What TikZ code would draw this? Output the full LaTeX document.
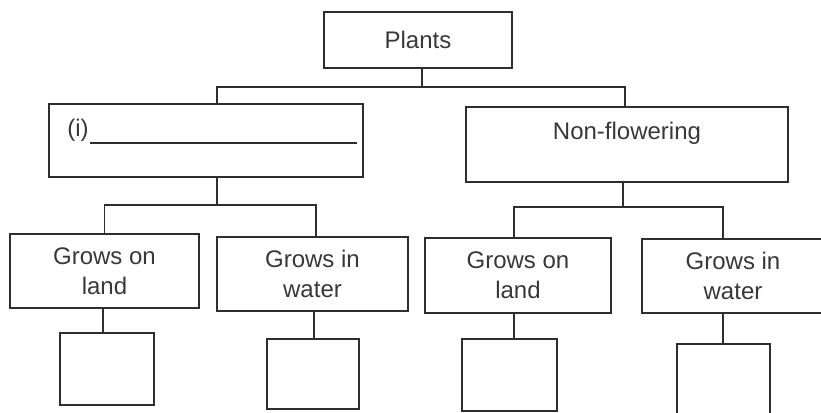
\documentclass[tikz,border=0pt]{standalone}
\usepackage{fontspec}
\setmainfont{Liberation Sans}
\begin{document}
\begin{tikzpicture}[x=1pt,y=-1pt,
  box/.style={draw=black!82,line width=1.6pt,rectangle,inner sep=0pt,align=center,
     text=black!78,font=\fontsize{24}{30}\selectfont},
  txt/.style={text=black!78,font=\fontsize{24}{30}\selectfont,inner sep=0pt},
  conn/.style={draw=black!82,line width=1.6pt}]
\useasboundingbox (0,0) rectangle (821,412);
\clip (0,0) rectangle (821,412);
% level 1
\node[box,minimum width=188,minimum height=56] (plants) at (418,40) {Plants};
% level 2
\node[box,minimum width=314,minimum height=73] (fl) at (206,140.5) {};
\node[txt] (ilab) at (78,130) {(i)};
\draw[conn] (90,143) -- (357,143);
\node[box,minimum width=322,minimum height=75] (nf) at (627,144.5) {};
\node[txt] (nflab) at ([yshift=11.5pt]nf.center) {Non-flowering};
% level 3
\node[box,minimum width=189,minimum height=74] (gl1) at (104.5,271) {Grows on\\land};
\node[box,minimum width=191,minimum height=74] (gw1) at (312.5,274) {Grows in\\water};
\node[box,minimum width=186,minimum height=75] (gl2) at (518,275.5) {Grows on\\land};
\node[box,minimum width=182,minimum height=74] (gw2) at (733,276) {Grows in\\water};
% level 4
\node[box,minimum width=94,minimum height=72] (s1) at (107,369) {};
\node[box,minimum width=92,minimum height=70] (s2) at (313,374) {};
\node[box,minimum width=95,minimum height=72] (s3) at (509.5,375) {};
\node[box,minimum width=93,minimum height=72] (s4) at (723.5,380) {};
% connectors level 1-2
\coordinate (j1) at (422,87);
\draw[conn] ([xshift=4pt]plants.south) -- (j1);
\draw[conn] ([xshift=11pt]fl.north) |- (j1) -| ([xshift=-2pt]nf.north);
% connectors level 2-3
\coordinate (j2) at (217,205);
\draw[conn] ([xshift=11pt]fl.south) -- (j2);
\draw[conn] (gl1.north) |- (j2) -| ([xshift=3.5pt]gw1.north);
\coordinate (j3) at (623,207);
\draw[conn] ([xshift=-4pt]nf.south) -- (j3);
\draw[conn] ([xshift=-4pt]gl2.north) |- (j3) -| ([xshift=-10pt]gw2.north);
% connectors level 3-4
\draw[conn] ([xshift=-1.5pt]gl1.south) -- ([xshift=-4pt]s1.north);
\draw[conn] ([xshift=1.5pt]gw1.south) -- ([xshift=1pt]s2.north);
\draw[conn] ([xshift=-4pt]gl2.south) -- ([xshift=4.5pt]s3.north);
\draw[conn] ([xshift=-10pt]gw2.south) -- ([xshift=-0.5pt]s4.north);
\end{tikzpicture}
\end{document}
